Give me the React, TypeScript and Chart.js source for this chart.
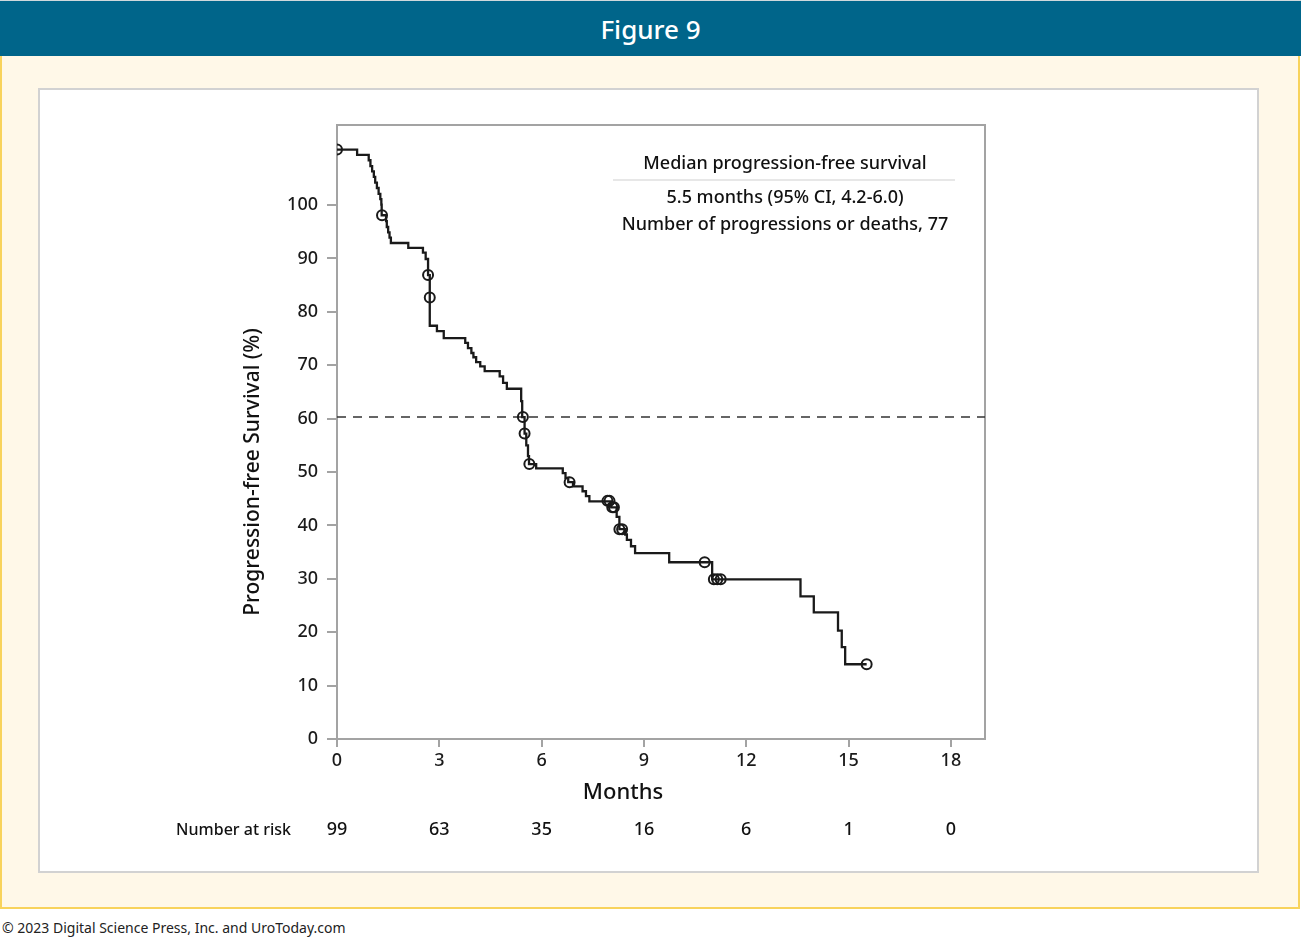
import React, { useEffect, useRef } from "react";
import { Chart, registerables } from "chart.js";

Chart.register(...registerables);

// Kaplan-Meier step points (months, survival %)
const kmTimes = [
  0, 0.59, 0.93, 0.98, 1.03, 1.08, 1.12, 1.17, 1.22, 1.27, 1.3, 1.31, 1.44, 1.46, 1.5, 1.54, 1.58,
  2.09, 2.52, 2.6, 2.67, 2.72, 2.93, 3.13, 3.76, 3.84, 3.94, 4.0, 4.08, 4.2, 4.33, 4.77, 4.87, 4.98,
  5.4, 5.43, 5.5, 5.55, 5.6, 5.63, 5.84, 6.62, 6.7, 6.78, 6.92, 7.2, 7.3, 7.4, 8.04, 8.2, 8.28, 8.45,
  8.5, 8.62, 8.74, 9.74, 11.0, 13.59, 13.98, 14.69, 14.8, 14.9, 15.53,
];
const kmSurvival = [
  110.4, 109.4, 108.4, 107.3, 106.3, 105.3, 104.2, 103.2, 102.1, 101.1, 100.1, 98.1, 97.0, 95.9, 94.9, 93.9, 92.9,
  92.0, 91.1, 89.9, 86.9, 77.4, 76.4, 75.1, 74.2, 73.2, 72.3, 71.5, 70.6, 69.8, 68.9, 67.9, 66.7, 65.6,
  63.3, 60.3, 57.2, 55.0, 53.0, 51.5, 50.7, 49.8, 48.9, 48.1, 47.3, 46.4, 45.5, 44.5, 43.4, 41.6, 39.3, 38.3,
  37.3, 36.1, 34.8, 33.1, 29.9, 26.7, 23.7, 20.3, 17.2, 14.0, 14.0,
];

// Censored observations
const censorTimes = [0, 1.32, 2.67, 2.72, 5.45, 5.5, 5.64, 6.82, 7.93, 7.99, 8.07, 8.12, 8.28, 8.36, 10.78, 11.05, 11.15, 11.25, 15.53];
const censorSurvival = [110.4, 98.1, 86.9, 82.7, 60.3, 57.2, 51.5, 48.1, 44.6, 44.6, 43.4, 43.4, 39.3, 39.3, 33.1, 29.9, 29.9, 29.9, 14.0];

const medianLevel = [60.3, 60.3];
const medianSpan = [0, 19];

const xTickValues = [0, 3, 6, 9, 12, 15, 18];
const yTickValues = [0, 10, 20, 30, 40, 50, 60, 70, 80, 90, 100];
const riskCounts = [99, 63, 35, 16, 6, 1, 0];

const annotationTitle = "Median progression-free survival";
const annotationLines = ["5.5 months (95% CI, 4.2-6.0)", "Number of progressions or deaths, 77"];

const FONT = '"Noto Sans", "Open Sans", sans-serif';
const AXIS_GREY = "#a3a3a3";

export default function App() {
  const ref = useRef<HTMLCanvasElement>(null);

  useEffect(() => {
    const prevMargin = document.body.style.margin;
    document.body.style.margin = "0";
    const canvas = ref.current;
    if (!canvas) return;

    const textPlugin = {
      id: "kmText",
      beforeDatasetsDraw(chart: any) {
        const { ctx, chartArea } = chart;
        ctx.save();
        ctx.strokeStyle = AXIS_GREY;
        ctx.lineWidth = 2;
        ctx.strokeRect(chartArea.left, chartArea.top, chartArea.right - chartArea.left, chartArea.bottom - chartArea.top);
        ctx.restore();
      },
      afterDraw(chart: any) {
        const { ctx, chartArea, scales } = chart;
        const L = chartArea.left;
        const T = chartArea.top;
        ctx.save();
        ctx.fillStyle = "#111";
        ctx.textBaseline = "middle";

        // y title
        ctx.save();
        ctx.translate(L - 84, T + 347);
        ctx.rotate(-Math.PI / 2);
        ctx.textAlign = "center";
        ctx.font = `500 21px ${FONT}`;
        ctx.fillText("Progression-free Survival (%)", 0, 0);
        ctx.restore();

        // x title
        ctx.textAlign = "center";
        ctx.font = `500 22px ${FONT}`;
        ctx.fillText("Months", L + 286, chartArea.bottom + 54);

        // risk table
        const riskY = chartArea.bottom + 91;
        ctx.textAlign = "right";
        ctx.font = `500 16px ${FONT}`;
        ctx.fillText("Number at risk", L - 46, riskY);
        ctx.textAlign = "center";
        ctx.font = `500 18px ${FONT}`;
        xTickValues.forEach((v, i) => {
          ctx.fillText(String(riskCounts[i]), scales.x.getPixelForValue(v), riskY);
        });

        // annotation box
        const cx = L + 448;
        ctx.font = `500 18px ${FONT}`;
        ctx.fillText(annotationTitle, cx, T + 39);
        ctx.strokeStyle = "#cfcfcf";
        ctx.lineWidth = 1;
        ctx.beginPath();
        ctx.moveTo(L + 276, T + 55);
        ctx.lineTo(L + 618, T + 55);
        ctx.stroke();
        annotationLines.forEach((s, i) => ctx.fillText(s, cx, T + 73 + i * 27));
        ctx.restore();
      },
    };

    const chart = new Chart(canvas, {
      type: "line",
      data: {
        datasets: [
          {
            label: "Progression-free survival",
            data: kmTimes.map((t, i) => ({ x: t, y: kmSurvival[i] })),
            stepped: true,
            borderColor: "#1a1a1a",
            borderWidth: 2.3,
            pointRadius: 0,
            fill: false,
          },
          {
            label: "Censored",
            data: censorTimes.map((t, i) => ({ x: t, y: censorSurvival[i] })),
            showLine: false,
            pointStyle: "circle",
            pointRadius: 5,
            pointBorderWidth: 2,
            pointBorderColor: "#1a1a1a",
            pointBackgroundColor: "rgba(0,0,0,0)",
          },
          {
            label: "Median",
            data: medianSpan.map((t, i) => ({ x: t, y: medianLevel[i] })),
            borderColor: "#333",
            borderWidth: 1.5,
            borderDash: [9, 7],
            pointRadius: 0,
            fill: false,
          },
        ],
      },
      options: {
        animation: false,
        responsive: false,
        layout: { padding: { left: 0, top: 35, right: 272, bottom: 0 } },
        plugins: { legend: { display: false }, tooltip: { enabled: false } },
        scales: {
          x: {
            type: "linear",
            min: 0,
            max: 19,
            afterBuildTicks: (s: any) => {
              s.ticks = xTickValues.map((v) => ({ value: v }));
            },
            afterFit: (s: any) => {
              s.height = 132;
            },
            grid: { drawOnChartArea: false, drawTicks: true, tickLength: 8, color: AXIS_GREY, lineWidth: 2 },
            border: { color: AXIS_GREY, width: 2 },
            ticks: { font: { family: FONT, size: 18, weight: 500 }, color: "#1a1a1a", padding: 3, maxRotation: 0, autoSkip: false },
          },
          y: {
            type: "linear",
            min: 0,
            max: 115,
            afterBuildTicks: (s: any) => {
              s.ticks = yTickValues.map((v) => ({ value: v }));
            },
            afterFit: (s: any) => {
              s.width = 297;
            },
            grid: { drawOnChartArea: false, drawTicks: true, tickLength: 10, color: AXIS_GREY, lineWidth: 2 },
            border: { color: AXIS_GREY, width: 2 },
            ticks: { font: { family: FONT, size: 18, weight: 500 }, color: "#1a1a1a", padding: 9, autoSkip: false },
          },
        },
      },
      plugins: [textPlugin],
    } as any);

    return () => {
      chart.destroy();
      document.body.style.margin = prevMargin;
    };
  }, []);

  return (
    <div style={{ position: "absolute", left: 0, top: 0, width: 1301, height: 938, background: "#fff", fontFamily: FONT }}>
      <div
        style={{
          position: "absolute",
          left: 0,
          top: 0,
          width: 1301,
          height: 56,
          background: "#00658a",
          color: "#fff",
          fontSize: 26,
          fontWeight: 500,
          lineHeight: "56px",
          textAlign: "center",
          borderTop: "1px solid #cfd8dc",
          boxSizing: "border-box",
        }}
      >
        Figure 9
      </div>
      <div
        style={{
          position: "absolute",
          left: 0,
          top: 56,
          width: 1300,
          height: 853,
          background: "#fff8e8",
          border: "2px solid #f8d35c",
          borderTop: "none",
          boxSizing: "border-box",
        }}
      />
      <div
        style={{
          position: "absolute",
          left: 38,
          top: 88,
          width: 1221,
          height: 785,
          background: "#fff",
          border: "2px solid #d2d2d2",
          boxSizing: "border-box",
        }}
      />
      <canvas ref={ref} width={1217} height={781} style={{ position: "absolute", left: 40, top: 90, width: 1217, height: 781 }} />
      <div style={{ position: "absolute", left: 2, top: 918, fontSize: 14, color: "#222", whiteSpace: "nowrap" }}>
        © 2023 Digital Science Press, Inc. and UroToday.com
      </div>
    </div>
  );
}
